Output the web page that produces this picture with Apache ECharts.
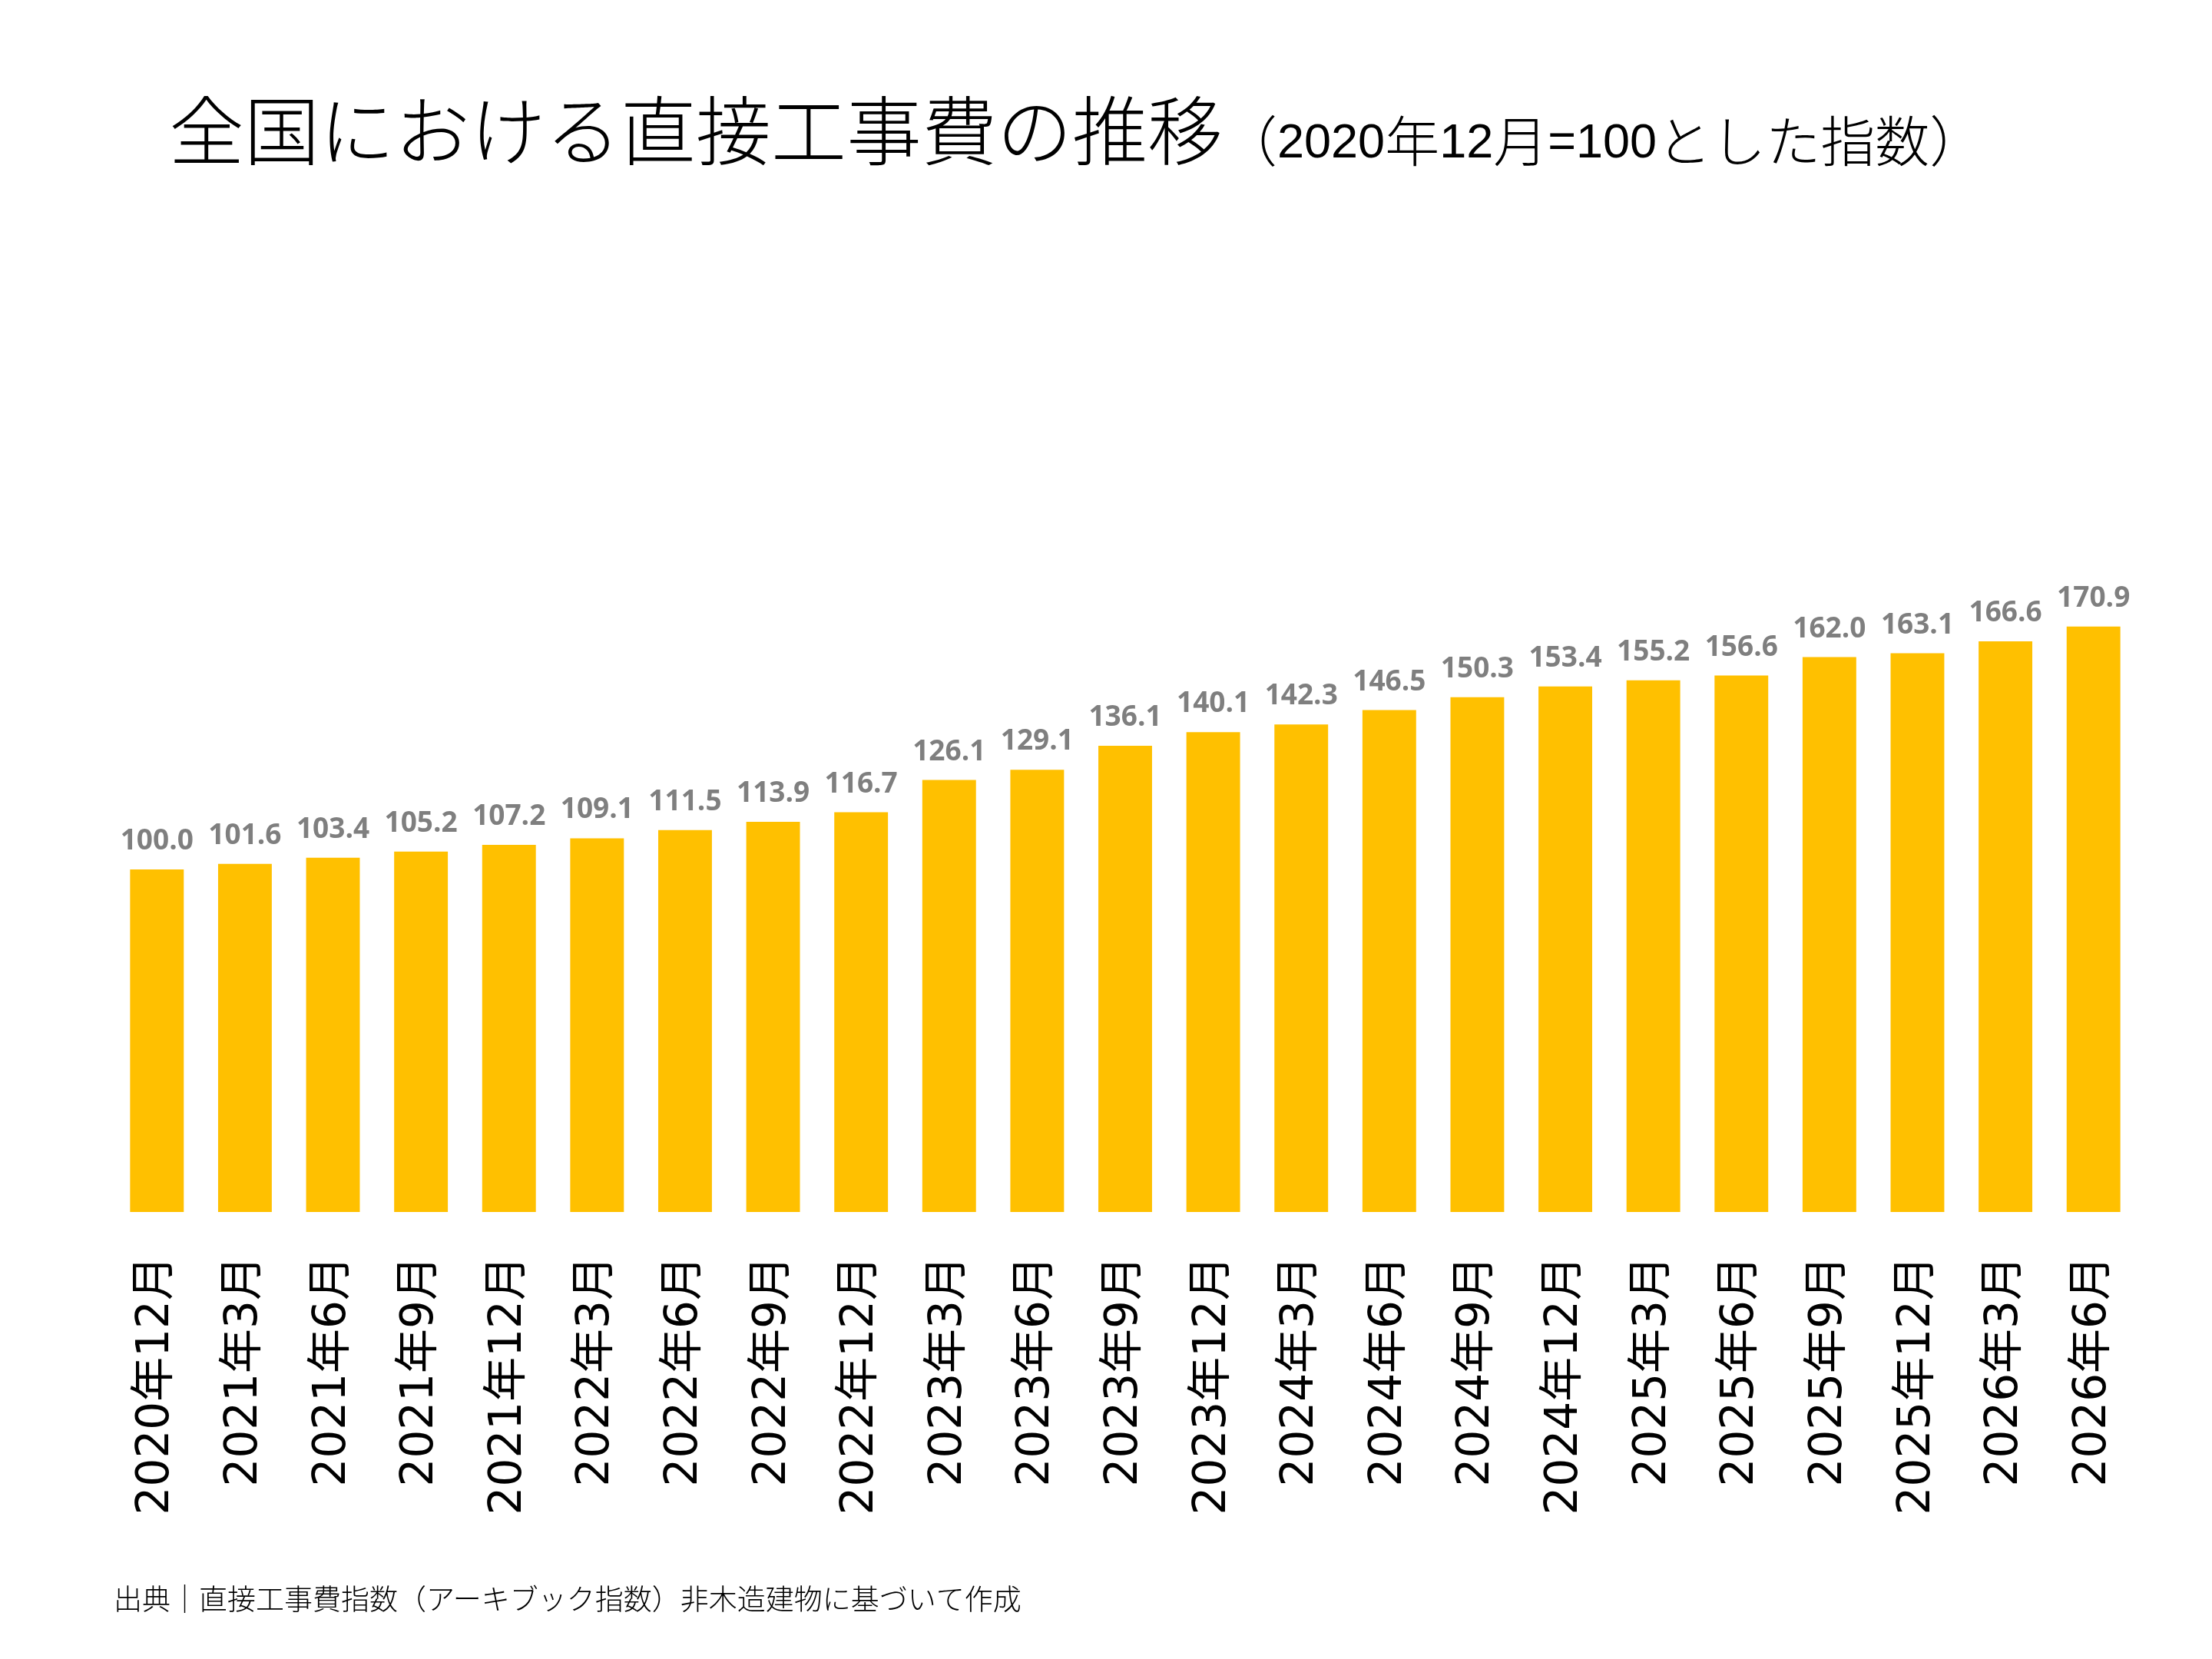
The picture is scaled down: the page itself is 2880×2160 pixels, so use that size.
<!DOCTYPE html>
<html>
<head>
<meta charset="utf-8">
<title>全国における直接工事費の推移</title>
<script src="https://cdn.jsdelivr.net/npm/echarts@6/dist/echarts.min.js"></script>
<style>
  html, body { margin: 0; padding: 0; background: #fff; }
  #chart { width: 2880px; height: 2160px; }
</style>
</head>
<body>
<div id="chart"></div>
<script>
// categories (quarter labels)
var months = [
  "2020年12月",
  "2021年3月", "2021年6月", "2021年9月", "2021年12月",
  "2022年3月", "2022年6月", "2022年9月", "2022年12月",
  "2023年3月", "2023年6月", "2023年9月", "2023年12月",
  "2024年3月", "2024年6月", "2024年9月", "2024年12月",
  "2025年3月", "2025年6月", "2025年9月", "2025年12月",
  "2026年3月", "2026年6月"
];
// index values (2020年12月 = 100)
var indexValues = [
  100.0,
  101.6, 103.4, 105.2, 107.2,
  109.1, 111.5, 113.9, 116.7,
  126.1, 129.1, 136.1, 140.1,
  142.3, 146.5, 150.3, 153.4,
  155.2, 156.6, 162.0, 163.1,
  166.6, 170.9
];
var titleMain = "全国における直接工事費の推移";
var sourceNote = "出典｜直接工事費指数（アーキブック指数）非木造建物に基づいて作成";

var jpFont = '"Noto Sans CJK JP", sans-serif';

var chart = echarts.init(document.getElementById("chart"));

var option = {
  backgroundColor: "#ffffff",
  animation: false,
  title: [
    {
      left: 215,
      top: 104,
      text: "{a|" + titleMain + "}{p|（}{d|2020}{p|年}{d|12}{p|月}{d|=100}{p|とした指数）}",
      textStyle: {
        fontWeight: "normal",
        rich: {
          a: { fontFamily: jpFont, fontSize: 98, fontWeight: 300, color: "#000", lineHeight: 110, verticalAlign: "bottom" },
          p: { fontFamily: jpFont, fontSize: 71, fontWeight: 300, color: "#000", lineHeight: 82, verticalAlign: "bottom" },
          d: { fontFamily: '"Liberation Sans", sans-serif', fontSize: 63, fontWeight: "normal", color: "#000", lineHeight: 81, verticalAlign: "bottom" }
        }
      }
    },
    {
      // source note at the bottom
      left: 143,
      top: 2058,
      text: sourceNote,
      textStyle: { fontFamily: jpFont, fontSize: 37, fontWeight: 300, color: "#000" }
    }
  ],
  grid: { left: 147, right: 97, top: 686, bottom: 582 },
  xAxis: {
    type: "category",
    data: months,
    axisLine: { show: false },
    axisTick: { show: false },
    axisLabel: {
      rotate: 90,
      margin: 57,
      interval: 0,
      fontFamily: '"DejaVu Sans", "Noto Sans CJK JP", sans-serif',
      fontSize: 58,
      color: "#000"
    }
  },
  yAxis: {
    type: "value",
    min: 0,
    max: 200,
    show: false,
    splitLine: { show: false }
  },
  series: [
    {
      type: "bar",
      data: indexValues,
      barCategoryGap: "39%",
      itemStyle: { color: "#FFC000" },
      label: {
        show: true,
        position: "top",
        distance: 18,
        fontFamily: '"Open Sans", sans-serif',
        fontWeight: "bold",
        fontSize: 37,
        color: "#7F7F7F",
        formatter: function (p) { return p.value.toFixed(1); }
      }
    }
  ]
};

chart.setOption(option);
</script>
</body>
</html>
